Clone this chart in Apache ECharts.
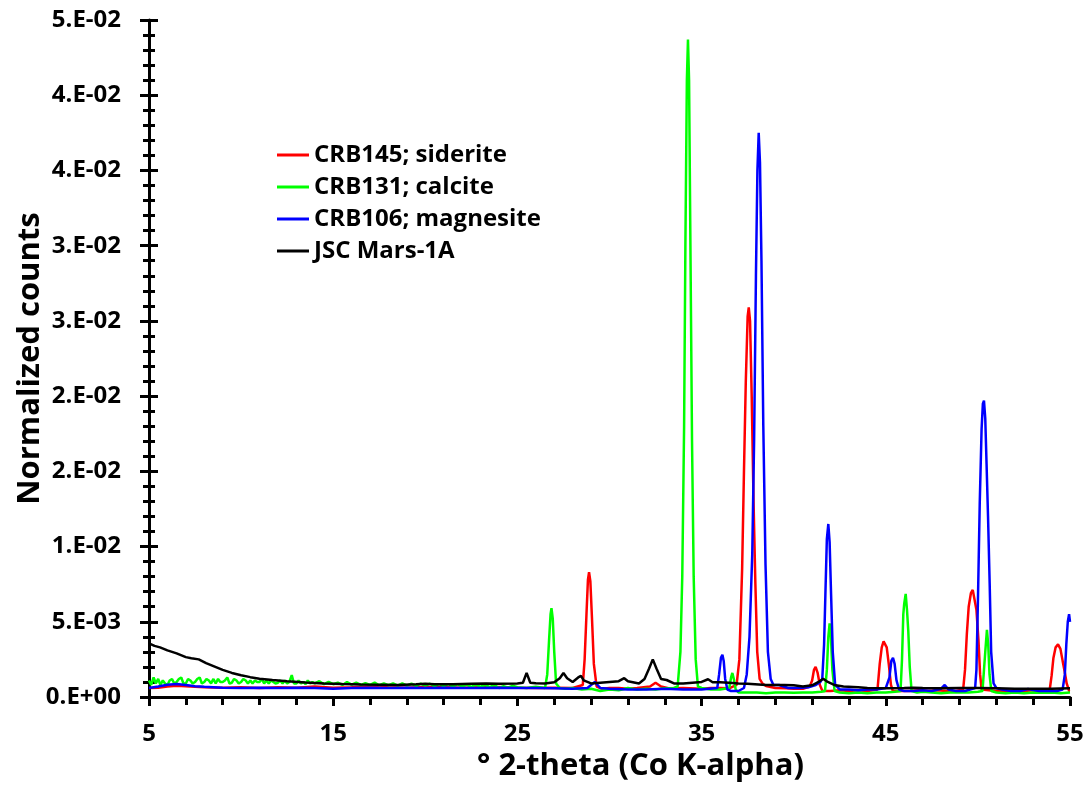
<!DOCTYPE html>
<html>
<head>
<meta charset="utf-8">
<script src="https://cdn.jsdelivr.net/npm/echarts@6/dist/echarts.min.js"></script>
<style>
html,body{margin:0;padding:0;background:#fff;}
#chart{width:1092px;height:790px;}
</style>
</head>
<body>
<div id="chart"></div>
<script>
// ---- data (x = degrees 2-theta, y = normalized counts) ----
const seriesNames = ['CRB145; siderite', 'CRB131; calcite', 'CRB106; magnesite', 'JSC Mars-1A'];
const seriesColors = ['#FF0000', '#00FF00', '#0000FF', '#000000'];
const xTicks = [5, 15, 25, 35, 45, 55];

const siderite = [
[5.0,0.0006],[5.5,0.00062],[6.0,0.0007],[6.5,0.00075],[7.0,0.00072],[7.5,0.00068],[8.0,0.00065],[9.0,0.00062],
[10.0,0.00065],[11.0,0.0006],[12.0,0.00065],[13.0,0.00062],[14.0,0.0007],[15.0,0.00062],[16.0,0.00065],[17.0,0.0007],
[18.0,0.00065],[19.0,0.00062],[20.0,0.00066],[21.0,0.00064],[22.0,0.00062],[23.0,0.00065],[24.0,0.00066],[25.0,0.00062],
[26.0,0.0006],[27.0,0.00062],[28.0,0.0006],[28.55,0.0008],[28.65,0.0025],[28.75,0.0055],[28.83,0.0078],[28.89,0.0083],
[28.96,0.0077],[29.05,0.0052],[29.15,0.0022],[29.3,0.0007],[29.6,0.00055],[30.0,0.0006],[30.5,0.0006],[31.0,0.00055],
[31.5,0.0006],[32.2,0.0007],[32.5,0.00095],[32.8,0.0007],[33.2,0.00058],[34.0,0.0006],[35.0,0.00055],[35.5,0.0006],
[36.0,0.0006],[36.5,0.00058],[36.9,0.0008],[37.05,0.0025],[37.2,0.0085],[37.3,0.015],[37.4,0.021],[37.5,0.0253],
[37.56,0.0259],[37.63,0.025],[37.72,0.02],[37.82,0.013],[37.92,0.0075],[38.02,0.003],[38.15,0.0012],[38.3,0.0009],
[38.5,0.00073],[39.0,0.0006],[39.6,0.00058],[40.0,0.00055],[40.5,0.00055],[40.87,0.0007],[41.0,0.0011],[41.1,0.0018],
[41.19,0.002],[41.3,0.0016],[41.42,0.0008],[41.56,0.0004],[42.0,0.0004],[42.5,0.00045],[43.0,0.0004],[43.5,0.00045],
[44.0,0.0004],[44.55,0.0005],[44.67,0.0022],[44.78,0.0033],[44.88,0.0037],[44.96,0.00375],[45.05,0.0033],[45.16,0.0022],
[45.28,0.0008],[45.38,0.0004],[45.8,0.0004],[46.3,0.0004],[46.8,0.00045],[47.3,0.0004],[47.8,0.00045],[48.3,0.0004],
[48.8,0.0004],[49.2,0.0005],[49.3,0.0018],[49.4,0.0042],[49.5,0.006],[49.62,0.0069],[49.72,0.00712],[49.82,0.007],
[49.92,0.0058],[50.03,0.0038],[50.12,0.0015],[50.2,0.0005],[50.6,0.00045],[51.0,0.0004],[51.5,0.0004],[52.0,0.00045],
[52.5,0.0004],[53.0,0.00045],[53.5,0.0004],[53.9,0.0005],[54.0,0.0014],[54.1,0.0026],[54.22,0.0033],[54.35,0.0035],
[54.48,0.0032],[54.6,0.0024],[54.71,0.0017],[54.82,0.0009],[54.95,0.0004],[55.0,0.0004]
];

const calcite = [
[5.0,0.0011],[5.12,0.0008],[5.25,0.0013],[5.37,0.0009],[5.5,0.0012],[5.62,0.0008],[5.75,0.0011],[5.87,0.0009],
[6.0,0.0008],[6.12,0.0011],[6.25,0.0012],[6.37,0.0009],[6.5,0.001],[6.62,0.0012],[6.75,0.0013],[6.87,0.0009],
[7.0,0.0009],[7.12,0.0012],[7.25,0.0011],[7.37,0.0009],[7.5,0.001],[7.62,0.0012],[7.75,0.0013],[7.87,0.0009],
[8.0,0.001],[8.12,0.0012],[8.25,0.0011],[8.37,0.0009],[8.5,0.0012],[8.62,0.0009],[8.75,0.0012],[8.87,0.001],
[9.0,0.001],[9.12,0.0011],[9.25,0.0013],[9.37,0.0009],[9.5,0.00095],[9.62,0.0012],[9.75,0.0011],[9.87,0.0009],
[10.0,0.001],[10.12,0.0012],[10.25,0.0011],[10.37,0.0009],[10.5,0.0011],[10.62,0.0009],[10.75,0.0011],[10.87,0.001],
[11.0,0.001],[11.12,0.0012],[11.25,0.0009],[11.37,0.0011],[11.5,0.0009],[11.62,0.0011],[11.75,0.001],[11.87,0.0009],
[12.0,0.00095],[12.12,0.0011],[12.25,0.0009],[12.37,0.0011],[12.5,0.0009],[12.62,0.001],[12.75,0.00145],[12.87,0.0009],
[13.0,0.0009],[13.12,0.0011],[13.25,0.0009],[13.37,0.001],[13.5,0.00085],[13.62,0.0011],[13.75,0.0009],[13.87,0.001],
[14.0,0.0009],[14.25,0.00105],[14.5,0.00085],[14.75,0.001],[15.0,0.00085],[15.25,0.00095],[15.5,0.0008],[15.75,0.001],
[16.0,0.00082],[16.25,0.00095],[16.5,0.0008],[16.75,0.00092],[17.0,0.0008],[17.25,0.00095],[17.5,0.00078],[17.75,0.0009],
[18.0,0.00078],[18.25,0.0009],[18.5,0.00075],[18.75,0.0009],[19.0,0.00075],[19.25,0.00088],[19.5,0.00074],[19.75,0.00088],
[20.0,0.00076],[20.25,0.00088],[20.5,0.00072],[20.75,0.00086],[21.0,0.00072],[21.25,0.00085],[21.5,0.0007],[21.75,0.00084],
[22.0,0.0007],[22.25,0.00082],[22.5,0.00068],[22.75,0.00082],[23.0,0.00068],[23.25,0.0008],[23.5,0.00066],[23.75,0.0008],
[24.0,0.0006],[24.25,0.00072],[24.5,0.00062],[24.75,0.00075],[25.0,0.00065],[25.5,0.0006],[26.0,0.00068],[26.5,0.0006],
[26.62,0.0015],[26.72,0.0038],[26.8,0.0055],[26.85,0.0059],[26.92,0.0052],[27.0,0.003],[27.1,0.0009],[27.3,0.0006],
[27.6,0.00055],[28.0,0.0006],[28.5,0.0005],[29.0,0.00055],[29.5,0.0004],[30.0,0.0005],[30.5,0.00045],[31.0,0.0006],
[31.5,0.0005],[32.0,0.00055],[32.5,0.0005],[33.0,0.00058],[33.5,0.0006],[33.7,0.0007],[33.85,0.003],[33.95,0.008],
[34.05,0.018],[34.12,0.03],[34.2,0.041],[34.26,0.0437],[34.32,0.041],[34.4,0.029],[34.48,0.017],[34.57,0.008],
[34.68,0.0025],[34.8,0.0007],[35.0,0.0006],[35.5,0.0005],[36.0,0.0005],[36.5,0.0006],[36.6,0.0013],[36.67,0.0016],
[36.75,0.0012],[36.85,0.0005],[37.0,0.0003],[37.5,0.0003],[38.0,0.0003],[38.5,0.00025],[39.0,0.0003],[39.5,0.0003],
[40.0,0.00028],[40.5,0.0003],[41.0,0.0003],[41.5,0.00035],[41.7,0.0004],[41.8,0.0018],[41.88,0.004],[41.95,0.0049],
[42.02,0.004],[42.1,0.0018],[42.22,0.0004],[42.5,0.0003],[43.0,0.00025],[43.5,0.0003],[44.0,0.00025],[44.5,0.0003],
[45.0,0.0003],[45.5,0.00035],[45.8,0.0004],[45.88,0.0025],[45.95,0.0055],[46.0,0.0062],[46.08,0.00685],[46.15,0.0058],
[46.22,0.0044],[46.3,0.002],[46.4,0.0004],[46.7,0.0003],[47.0,0.00035],[47.5,0.0003],[48.0,0.00025],[48.5,0.0003],
[49.0,0.0003],[49.5,0.0003],[50.0,0.00035],[50.25,0.0004],[50.33,0.0018],[50.4,0.003],[50.49,0.00446],[50.56,0.0035],
[50.63,0.0015],[50.73,0.0004],[51.0,0.0003],[51.5,0.00025],[52.0,0.0003],[52.5,0.00025],[53.0,0.0003],[53.5,0.00028],
[54.0,0.0003],[54.5,0.00025],[55.0,0.0003]
];

const magnesite = [
[5.0,0.0006],[5.5,0.0007],[6.0,0.00082],[6.5,0.00086],[7.0,0.0008],[7.5,0.00072],[8.0,0.00068],[9.0,0.00062],
[10.0,0.0006],[11.0,0.00062],[12.0,0.0006],[13.0,0.00062],[14.0,0.0006],[15.0,0.00055],[16.0,0.0006],[17.0,0.00062],
[18.0,0.0006],[19.0,0.00062],[20.0,0.0006],[21.0,0.00062],[22.0,0.0006],[23.0,0.0006],[24.0,0.00062],[25.0,0.0006],
[26.0,0.0006],[27.0,0.00058],[28.0,0.00055],[28.8,0.0006],[29.2,0.001],[29.5,0.0006],[30.0,0.00055],[31.0,0.0005],
[32.0,0.0005],[33.0,0.00055],[34.0,0.0005],[35.0,0.0005],[35.85,0.0006],[35.95,0.0015],[36.05,0.0026],[36.13,0.0028],
[36.2,0.0024],[36.28,0.0012],[36.4,0.0005],[36.6,0.0004],[37.0,0.0004],[37.3,0.0006],[37.45,0.0015],[37.6,0.004],
[37.75,0.0095],[37.85,0.017],[37.95,0.028],[38.03,0.035],[38.1,0.0375],[38.17,0.0355],[38.25,0.029],[38.35,0.018],
[38.47,0.0088],[38.6,0.003],[38.75,0.0012],[38.9,0.0008],[39.2,0.0008],[39.7,0.0006],[40.3,0.0006],[40.8,0.00065],
[41.2,0.0008],[41.45,0.001],[41.55,0.0012],[41.65,0.0035],[41.72,0.0068],[41.8,0.0105],[41.88,0.0115],[41.95,0.0103],
[42.03,0.0068],[42.12,0.003],[42.25,0.0008],[42.5,0.0005],[43.0,0.0005],[43.5,0.00045],[44.0,0.0005],[44.5,0.0005],
[45.0,0.0006],[45.1,0.0006],[45.2,0.0013],[45.3,0.0024],[45.39,0.0026],[45.48,0.0022],[45.58,0.0011],[45.72,0.0005],
[46.0,0.0004],[46.5,0.0004],[47.0,0.00045],[47.5,0.0004],[48.0,0.00055],[48.2,0.0008],[48.4,0.0005],[48.8,0.0004],
[49.3,0.0004],[49.85,0.0006],[49.92,0.0018],[50.0,0.0063],[50.1,0.0129],[50.2,0.0178],[50.27,0.0195],[50.33,0.0197],
[50.4,0.0185],[50.47,0.0155],[50.55,0.012],[50.64,0.0075],[50.72,0.003],[50.85,0.0009],[51.0,0.0006],[51.3,0.0005],
[51.8,0.0004],[52.3,0.0004],[52.72,0.00053],[53.3,0.0004],[53.8,0.0004],[54.3,0.0004],[54.6,0.0005],[54.72,0.0015],
[54.8,0.0035],[54.88,0.005],[54.95,0.0055],[55.0,0.005]
];

const marsSim = [
[5.0,0.00357],[5.3,0.0034],[5.6,0.0033],[6.0,0.0031],[6.5,0.0029],[7.0,0.00265],[7.3,0.00258],[7.7,0.0025],
[8.1,0.00225],[8.6,0.002],[9.0,0.0018],[9.5,0.0016],[10.0,0.00145],[10.5,0.00132],[11.0,0.00122],[11.7,0.00113],
[12.5,0.00105],[13.5,0.00096],[14.5,0.0009],[15.5,0.00086],[16.5,0.00083],[17.5,0.00082],[18.5,0.0008],[19.5,0.00084],
[20.0,0.00088],[20.5,0.00085],[21.5,0.00085],[22.5,0.00088],[23.3,0.0009],[24.0,0.00088],[25.0,0.0009],[25.3,0.00095],
[25.5,0.0016],[25.7,0.00095],[26.0,0.00092],[26.5,0.0009],[27.0,0.00098],[27.3,0.00125],[27.5,0.0016],[27.7,0.00125],
[28.0,0.001],[28.3,0.0013],[28.45,0.0014],[28.6,0.0011],[29.0,0.0009],[29.5,0.00095],[30.0,0.001],[30.5,0.00105],
[30.8,0.00125],[31.0,0.00105],[31.6,0.0009],[31.9,0.0012],[32.15,0.0019],[32.35,0.0025],[32.55,0.0019],[32.8,0.0012],
[33.1,0.00113],[33.5,0.0009],[34.0,0.0009],[34.5,0.00095],[35.0,0.001],[35.35,0.00118],[35.6,0.00098],[36.0,0.00098],
[36.5,0.00095],[37.0,0.0009],[37.5,0.00088],[38.5,0.0008],[39.5,0.0008],[40.0,0.00078],[40.5,0.0007],[41.0,0.00078],
[41.35,0.001],[41.6,0.00122],[41.85,0.001],[42.2,0.0008],[42.7,0.0007],[43.5,0.00065],[44.0,0.0006],[45.0,0.00058],
[46.0,0.0006],[46.1,0.00068],[46.5,0.00062],[47.0,0.0006],[48.0,0.00058],[49.0,0.0006],[50.0,0.0006],[51.0,0.00058],
[52.0,0.00055],[53.0,0.00055],[54.0,0.00055],[55.0,0.00058]
];

const seriesData = [siderite, calcite, magnesite, marsSim];

// ---- chart ----
const FONT = 'Open Sans';
function sci(v) {
  if (Math.abs(v) < 1e-12) return '0.E+00';
  let e = Math.floor(Math.log10(v) + 1e-9);
  let m = Math.round(v / Math.pow(10, e) + 1e-6);
  if (m >= 10) { m = 1; e += 1; }
  const a = Math.abs(e);
  return m + '.E' + (e < 0 ? '-' : '+') + (a < 10 ? '0' : '') + a;
}

const chart = echarts.init(document.getElementById('chart'), null, {renderer: 'canvas'});
const labelStyle = {fontFamily: FONT, fontWeight: 'bold', fontSize: 24, color: '#000'};

chart.setOption({
  animation: false,
  backgroundColor: '#fff',
  grid: {left: 149, right: 22, top: 20, bottom: 93, containLabel: false, outerBoundsMode: 'none'},
  legend: {
    orient: 'vertical', left: 272, top: 138,
    itemWidth: 32, itemHeight: 3, itemGap: 8, icon: 'rect',
    textStyle: {fontFamily: FONT, fontWeight: 'bold', fontSize: 24, color: '#000', lineHeight: 24},
    data: seriesNames
  },
  xAxis: {
    type: 'value', min: xTicks[0], max: xTicks[xTicks.length - 1], interval: 10,
    name: '° 2-theta (Co K-alpha)', nameLocation: 'middle', nameGap: 49,
    nameTextStyle: {fontFamily: FONT, fontWeight: 'bold', fontSize: 31, color: '#000', padding: [0, 0, 0, 62]},
    axisLine: {show: true, onZero: false, lineStyle: {color: '#000', width: 3}},
    axisTick: {show: true, inside: false, length: 9, lineStyle: {color: '#000', width: 3}},
    minorTick: {show: true, splitNumber: 5, length: 8, lineStyle: {color: '#000', width: 3}},
    axisLabel: Object.assign({margin: 25}, labelStyle),
    splitLine: {show: false}, minorSplitLine: {show: false}
  },
  yAxis: [{
    type: 'value', min: 0, max: 0.045, interval: 0.005, position: 'left',
    name: 'Normalized counts', nameLocation: 'middle', nameGap: 103, nameRotate: 90,
    nameMoveOverlap: false,
    nameTextStyle: {fontFamily: FONT, fontWeight: 'bold', fontSize: 31, color: '#000'},
    axisLine: {show: true, lineStyle: {color: '#000', width: 3}},
    axisTick: {show: true, inside: false, length: 9, lineStyle: {color: '#000', width: 3}},
    minorTick: {show: true, splitNumber: 5, length: 6, lineStyle: {color: '#000', width: 3}},
    axisLabel: Object.assign({margin: 28, formatter: sci}, labelStyle),
    splitLine: {show: false}, minorSplitLine: {show: false}
  }, {
    type: 'value', min: 0, max: 0.045, interval: 0.005, position: 'left', offset: 0,
    axisLine: {show: false},
    axisTick: {show: true, inside: true, length: 9, lineStyle: {color: '#000', width: 3}},
    minorTick: {show: true, splitNumber: 5, length: 6, lineStyle: {color: '#000', width: 3}},
    axisLabel: {show: false},
    splitLine: {show: false}, minorSplitLine: {show: false}
  }],
  series: seriesData.map((d, i) => ({
    name: seriesNames[i], type: 'line', data: d, yAxisIndex: 0,
    showSymbol: false, symbol: 'none', smooth: false,
    lineStyle: {color: seriesColors[i], width: 2.5},
    itemStyle: {color: seriesColors[i]},
    z: 2 + i
  }))
});
</script>
</body>
</html>
